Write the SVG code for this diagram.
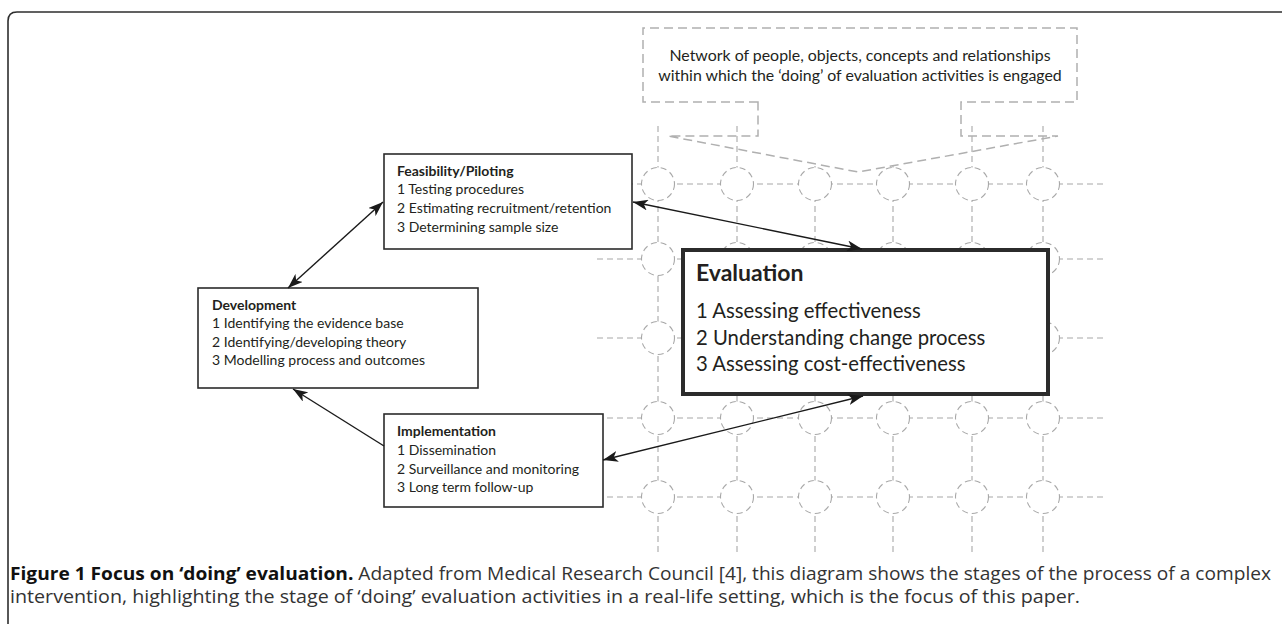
<svg xmlns="http://www.w3.org/2000/svg" width="1282" height="624" viewBox="0 0 1282 624">
<style>
.frame{fill:none;stroke:#2e2e2e;stroke-width:1.6}
.grid{fill:none;stroke:#a8a8a8;stroke-width:1.1;stroke-dasharray:6 4}
.ring{fill:#fff;stroke:#a8a8a8;stroke-width:1.1;stroke-dasharray:6 4}
.callout{fill:none;stroke:#b0b0b0;stroke-width:1.5;stroke-dasharray:9 5}
.box{fill:#fff;stroke:#2b2b2b;stroke-width:1.6}
.ebox{fill:#fff;stroke:#2b2b2b;stroke-width:4}
.t{font-family:Lato,"Liberation Sans",sans-serif;font-size:14px;fill:#231f20}
.b{font-weight:bold}
.et{font-family:Lato,"Liberation Sans",sans-serif;font-size:20.3px;fill:#231f20}
.eh{font-family:Lato,"Liberation Sans",sans-serif;font-size:23px;font-weight:bold;fill:#231f20}
.ct{font-family:Lato,"Liberation Sans",sans-serif;font-size:15.9px;fill:#231f20}
.cap{font-family:"Open Sans","Liberation Sans",sans-serif;font-size:18px;fill:#333}
.arrow{fill:none;stroke:#1a1a1a;stroke-width:1.4}
</style>
<defs>
<marker id="ah" viewBox="0 0 15 11" refX="15" refY="5.5" markerWidth="15" markerHeight="11" markerUnits="userSpaceOnUse" orient="auto-start-reverse">
<path d="M0,0 L15,5.5 L0,11 L4,5.5 Z" fill="#1a1a1a"/>
</marker>
</defs>
<path class="frame" d="M8,624 L8,21 Q8,12 17,12 L1282,12"/>
<g id="network">
<g id="grid-lines">
<line class="grid" x1="597" y1="184" x2="1105" y2="184"/>
<line class="grid" x1="597" y1="259" x2="1105" y2="259"/>
<line class="grid" x1="597" y1="338" x2="1105" y2="338"/>
<line class="grid" x1="597" y1="418" x2="1105" y2="418"/>
<line class="grid" x1="597" y1="497" x2="1105" y2="497"/>
<line class="grid" x1="658" y1="126" x2="658" y2="556"/>
<line class="grid" x1="737" y1="126" x2="737" y2="556"/>
<line class="grid" x1="815" y1="166" x2="815" y2="556"/>
<line class="grid" x1="893" y1="166" x2="893" y2="556"/>
<line class="grid" x1="972" y1="126" x2="972" y2="556"/>
<line class="grid" x1="1043" y1="126" x2="1043" y2="556"/>
</g>
<g id="grid-rings">
<circle class="ring" cx="658" cy="184" r="16.5"/><circle class="ring" cx="737" cy="184" r="16.5"/><circle class="ring" cx="815" cy="184" r="16.5"/><circle class="ring" cx="893" cy="184" r="16.5"/><circle class="ring" cx="972" cy="184" r="16.5"/><circle class="ring" cx="1043" cy="184" r="16.5"/>
<circle class="ring" cx="658" cy="259" r="16.5"/><circle class="ring" cx="737" cy="259" r="16.5"/><circle class="ring" cx="815" cy="259" r="16.5"/><circle class="ring" cx="893" cy="259" r="16.5"/><circle class="ring" cx="972" cy="259" r="16.5"/><circle class="ring" cx="1043" cy="259" r="16.5"/>
<circle class="ring" cx="658" cy="338" r="16.5"/><circle class="ring" cx="737" cy="338" r="16.5"/><circle class="ring" cx="815" cy="338" r="16.5"/><circle class="ring" cx="893" cy="338" r="16.5"/><circle class="ring" cx="972" cy="338" r="16.5"/><circle class="ring" cx="1043" cy="338" r="16.5"/>
<circle class="ring" cx="658" cy="418" r="16.5"/><circle class="ring" cx="737" cy="418" r="16.5"/><circle class="ring" cx="815" cy="418" r="16.5"/><circle class="ring" cx="893" cy="418" r="16.5"/><circle class="ring" cx="972" cy="418" r="16.5"/><circle class="ring" cx="1043" cy="418" r="16.5"/>
<circle class="ring" cx="658" cy="497" r="16.5"/><circle class="ring" cx="737" cy="497" r="16.5"/><circle class="ring" cx="815" cy="497" r="16.5"/><circle class="ring" cx="893" cy="497" r="16.5"/><circle class="ring" cx="972" cy="497" r="16.5"/><circle class="ring" cx="1043" cy="497" r="16.5"/>
</g>
</g>
<g id="network-callout">
<path class="callout" d="M758,102 L643,102 L643,28 L1077,28 L1077,102 L961,102 L961,136 L1058,136 L858,172 L668,136 L758,136 Z"/>
<text class="ct" x="860" y="61" text-anchor="middle">Network of people, objects, concepts and relationships</text>
<text class="ct" x="860" y="81" text-anchor="middle">within which the ‘doing’ of evaluation activities is engaged</text>
</g>
<g id="feasibility">
<rect class="box" x="384" y="154" width="248" height="95"/>
<text class="t b" x="397" y="176">Feasibility/Piloting</text>
<text class="t" x="397" y="194">1 Testing procedures</text>
<text class="t" x="397" y="213">2 Estimating recruitment/retention</text>
<text class="t" x="397" y="232">3 Determining sample size</text>
</g>
<g id="development">
<rect class="box" x="198" y="288" width="280" height="100"/>
<text class="t b" x="212" y="310">Development</text>
<text class="t" x="212" y="328">1 Identifying the evidence base</text>
<text class="t" x="212" y="347">2 Identifying/developing theory</text>
<text class="t" x="212" y="365">3 Modelling process and outcomes</text>
</g>
<g id="implementation">
<rect class="box" x="384" y="414" width="219" height="93"/>
<text class="t b" x="397" y="436">Implementation</text>
<text class="t" x="397" y="455">1 Dissemination</text>
<text class="t" x="397" y="474">2 Surveillance and monitoring</text>
<text class="t" x="397" y="492">3 Long term follow-up</text>
</g>
<g id="evaluation">
<rect class="ebox" x="683" y="250" width="365" height="144"/>
<text class="eh" x="696" y="281">Evaluation</text>
<text class="et" x="696" y="318">1 Assessing effectiveness</text>
<text class="et" x="696" y="345">2 Understanding change process</text>
<text class="et" x="696" y="371">3 Assessing cost-effectiveness</text>
</g>
<g id="connectors">
<line class="arrow" x1="288" y1="288" x2="383" y2="202" marker-start="url(#ah)" marker-end="url(#ah)"/>
<line class="arrow" x1="633" y1="202" x2="862" y2="249" marker-start="url(#ah)" marker-end="url(#ah)"/>
<line class="arrow" x1="384" y1="446" x2="293" y2="389" marker-end="url(#ah)"/>
<line class="arrow" x1="603" y1="460" x2="863" y2="396" marker-start="url(#ah)" marker-end="url(#ah)"/>
</g>
<g id="caption">
<text class="cap" x="10" y="580" textLength="1261" lengthAdjust="spacingAndGlyphs"><tspan font-weight="bold" fill="#111">Figure 1 Focus on ‘doing’ evaluation.</tspan> Adapted from Medical Research Council [4], this diagram shows the stages of the process of a complex</text>
<text class="cap" x="10" y="603" textLength="1070" lengthAdjust="spacingAndGlyphs">intervention, highlighting the stage of ‘doing’ evaluation activities in a real-life setting, which is the focus of this paper.</text>
</g>
</svg>
